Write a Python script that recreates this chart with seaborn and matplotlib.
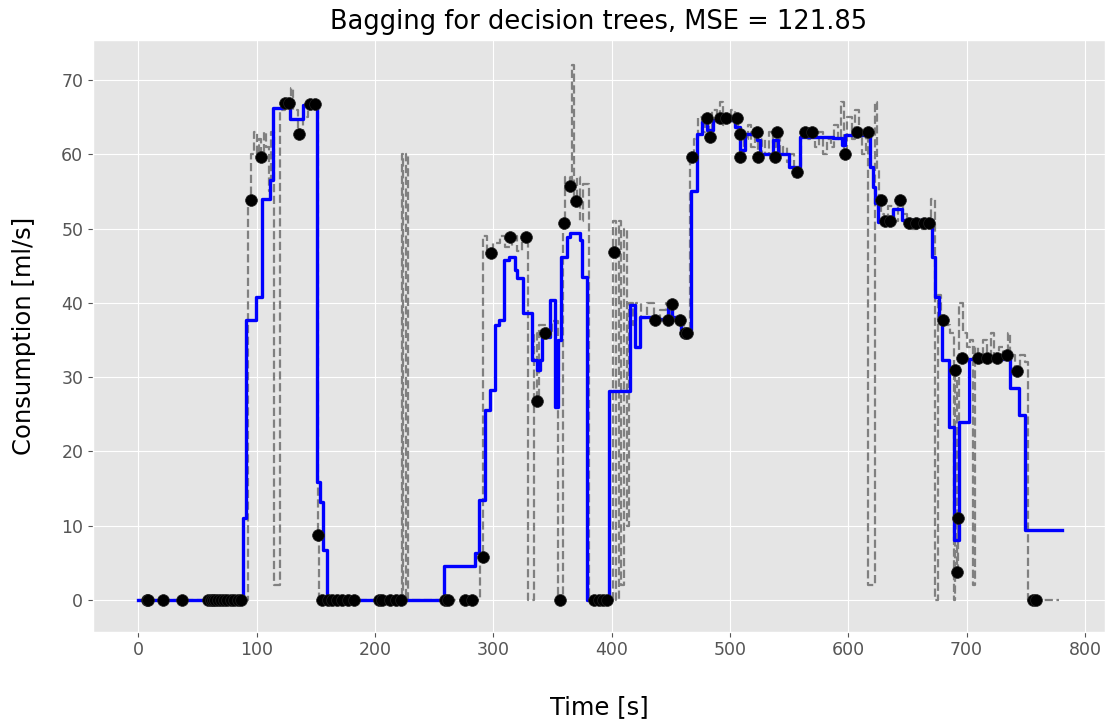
import matplotlib
matplotlib.use('Agg')
import matplotlib.pyplot as plt
import seaborn as sns

# single tree prediction (grey dashed)
tree_t = [0, 93, 95, 98, 100, 102, 104, 106, 108, 110.5, 112.5, 115, 120, 124, 129, 131, 135, 139, 143, 151.5, 153,
          222.5, 224, 226.5, 228,
          289, 291.5, 295, 300, 306, 310, 316, 320, 324, 329.5, 334, 337, 339, 345, 350, 355, 358.5, 361, 365, 366.5,
          368, 371, 373.5, 376, 380.5,
          401, 403.5, 406, 408, 410.5, 413, 415, 418, 421, 425, 430, 436, 441, 446, 450, 455, 461, 466, 470, 473, 476,
          479, 482, 485, 489, 492, 494, 497, 501, 504, 507, 509, 512, 515, 518, 521, 524, 527, 530, 533, 536, 539, 542,
          545, 548, 551, 554, 557, 560, 564, 568, 572, 575, 579, 582, 585, 588, 591, 594, 596, 599, 603, 606, 609, 612,
          615, 617, 622.5, 624, 626, 628, 630, 634, 638, 642, 646, 650, 654, 658, 662, 666, 670, 673, 675.5, 678, 682,
          686, 689, 690.5, 691.5, 692.5, 693.5, 697, 700, 703, 705.5, 707.5, 710, 714, 717, 721, 723, 727, 731, 735,
          737, 741, 745, 749, 751.5, 778]
tree_v = [0, 54, 60, 63, 60, 62, 60, 63, 61, 55, 63, 2, 66, 67, 69, 66, 63, 65, 67, 9, 0,
          60, 0, 60, 0,
          6, 49, 47, 48, 49, 47.5, 49, 47, 49, 0, 36, 27, 37, 36, 37.5, 0, 51, 57, 55, 72,
          54, 57, 51, 56, 0,
          51, 0, 51, 2, 50, 10, 40, 37, 40, 38, 40, 38, 39, 40, 38, 37, 36, 60, 62, 65, 63,
          65, 62, 66, 65, 67, 64, 65, 66, 65, 63, 60, 62, 64, 61, 63, 60, 62, 60, 63, 61, 63, 60,
          61, 59, 60, 57, 58, 63, 62, 63, 61, 63, 60, 62, 61, 64, 62, 67, 60, 65, 62, 66, 63, 60,
          63, 2, 67, 58, 54, 52, 51, 53, 51, 54, 52, 51, 50, 51, 50, 51, 54, 0, 41, 38, 37,
          36, 0, 31, 4, 11, 40, 36, 34, 35, 2, 34, 33, 35, 33, 36, 33, 34, 33, 36,
          33, 31, 33, 32, 0, 0]

# bagging prediction (blue)
bag_t = [0, 88.5, 90.8, 99.2, 104.8, 111.3, 113.6, 121, 128, 139.5, 150.8, 153.6, 156.4, 159.3, 258.7, 284.6,
         288.3, 293, 297.3, 301.5, 305, 309, 313, 318.4, 320, 325.5, 332.5, 336.8, 339.6, 341, 348, 352.2, 355, 357,
         362, 365, 373.4, 374.8, 379.6, 397.5, 415.6, 420, 424, 437, 448, 451, 459, 467, 472, 476.3, 480.5, 486,
         504.4, 508.6, 512.9, 522.7, 525.5, 536.8, 541, 549.5, 559.3, 587.5, 594.6, 597.4, 618.5, 621.3, 622.7,
         625.5, 638.2, 645.3, 670.7, 673.5, 676.3, 679, 685, 689.5, 694, 702, 737, 744, 749, 781]
bag_v = [0, 11, 37.7, 40.8, 54, 56.5, 66.2, 66.6, 64.8, 66.6, 15.9, 13.2, 6.7, 0, 4.6, 6.3,
         13.5, 25.6, 28.3, 37, 37.7, 45.8, 46.2, 44.4, 43.3, 38.6, 32.3, 31, 32.3, 35.4, 40.4, 26, 35, 46.2,
         48.9, 49.4, 48.5, 43.5, 0, 28.1, 39.7, 34.1, 38.1, 37.8, 39.5, 38.1, 36.3, 55, 62.8, 64.4, 63.3, 64.6,
         63.7, 60.6, 62.8, 61.9, 60.1, 61.9, 60.1, 58.3, 62.4, 62.2, 61.2, 62.6, 58.3, 55.6, 53.4,
         50.9, 52.7, 51.1, 46.2, 40.8, 37.7, 32.3, 23.3, 8.1, 24, 32.5, 28.5, 24.9, 9.4, 9.4]

# training samples (black dots)
obs_t = [7, 8.5, 20.5, 36.5, 59, 61, 63, 65, 67, 70, 72, 75, 78, 81, 84, 87, 95, 103.5, 124, 127, 136, 145, 149,
         151.6, 155.5, 160, 164, 168, 172, 177, 182, 203, 206, 213, 218, 222, 259, 262, 276, 282, 291, 298, 314,
         327.5, 337, 344, 356, 360, 365, 370, 385, 389, 393, 396, 402.4, 437, 448, 451, 458, 462, 464, 468, 480.5,
         483, 491.7, 497, 506, 508.6, 508.6, 523, 524, 539.6, 538, 556.5, 563.6, 569, 597, 607, 617, 628, 631, 635,
         644, 651, 657, 663.6, 668, 680, 690, 696, 693, 692, 710, 717, 725.6, 734, 742.5, 756, 759]
obs_v = [0, 0, 0, 0, 0, 0, 0, 0, 0, 0, 0, 0, 0, 0, 0, 0, 53.8, 59.7, 66.9, 66.9, 62.8, 66.8, 66.8,
         8.7, 0, 0, 0, 0, 0, 0, 0, 0, 0, 0, 0, 0, 0, 0, 0, 0, 5.8, 46.7, 48.9,
         48.9, 26.8, 36, 0, 50.8, 55.7, 53.7, 0, 0, 0, 0, 46.9, 37.7, 37.7, 39.9, 37.7, 35.9, 35.9, 59.7, 64.9,
         62.4, 64.9, 64.9, 64.9, 62.8, 59.7, 63, 59.7, 63, 59.7, 57.6, 63, 63, 60, 63, 63, 53.8, 51, 51,
         53.8, 50.8, 50.8, 50.8, 50.8, 37.7, 31, 32.6, 11, 3.8, 32.6, 32.6, 32.6, 33, 30.8, 0, 0]

plt.style.use('ggplot')
plt.rcParams['font.family'] = ['DejaVu Sans']

fig = plt.figure(figsize=(11.09, 7.22), dpi=100)
ax = fig.add_axes([0.0839, 0.125, 0.9125, 0.8196])

sns.lineplot(x=tree_t, y=tree_v, ax=ax, color='gray', linestyle='--', lw=1.6,
             drawstyle='steps-post', estimator=None, sort=False, zorder=2)
sns.lineplot(x=bag_t, y=bag_v, ax=ax, color='blue', lw=2.4,
             drawstyle='steps-post', estimator=None, sort=False, zorder=3)
sns.scatterplot(x=obs_t, y=obs_v, ax=ax, color='black', s=72, edgecolor='#222222', linewidth=0.5, zorder=4)

ax.set_xlim(-38.3, 817)
ax.set_ylim(-4.3, 75.4)
ax.set_xticks(range(0, 801, 100))
ax.set_yticks(range(0, 71, 10))
ax.tick_params(labelsize=12.5, colors='#555555')

ax.set_title('Bagging for decision trees, MSE = 121.85', fontsize=18.5, color='black', pad=8)
ax.set_xlabel('Time [s]', fontsize=17.5, color='black', labelpad=26)
ax.set_ylabel('Consumption [ml/s]', fontsize=17.5, color='black', labelpad=18)

fig.savefig('out.png', dpi=100)
